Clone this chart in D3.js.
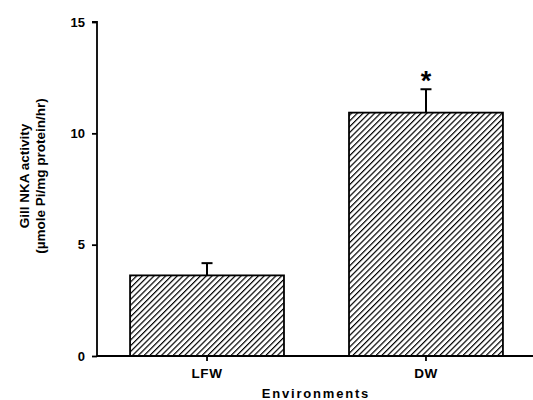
<!DOCTYPE html>
<html><head><meta charset="utf-8">
<script src="https://cdn.jsdelivr.net/npm/d3@7"></script>
<style>body{margin:0;background:#fff}svg{display:block}text{font-family:"Liberation Sans",Arial,sans-serif;font-weight:bold;fill:#000}</style>
</head><body>
<svg id="c" width="533" height="400"></svg>
<script>
const categories = ["LFW", "DW"];
const means = [3.62, 10.93];
const errors = [0.55, 1.05];
const marks = ["", "*"];
const yTicks = [0, 5, 10, 15];

const svg = d3.select("#c");
const x0 = 97, yBase = 356, yTop = 22;
const y = d3.scaleLinear().domain([0, 15]).range([yBase, yTop]);
const x = d3.scaleBand().domain(categories).range([x0, 536]).paddingInner(0.297).paddingOuter(0.151);
const FF = "'Liberation Sans',Arial,sans-serif";

const defs = svg.append("defs");
const pat = defs.append("pattern").attr("id", "hatch").attr("patternUnits", "userSpaceOnUse")
  .attr("width", 4.1).attr("height", 4.1).attr("patternTransform", "rotate(45)");
pat.append("rect").attr("width", 4.1).attr("height", 4.1).attr("fill", "#fff");
pat.append("line").attr("x1", 0).attr("y1", 0).attr("x2", 0).attr("y2", 4.1)
  .attr("stroke", "#000").attr("stroke-width", 2.4);

// bars
svg.selectAll("rect.bar").data(categories).enter().append("rect")
  .attr("x", d => x(d)).attr("width", x.bandwidth())
  .attr("y", (d, i) => y(means[i])).attr("height", (d, i) => yBase - y(means[i]))
  .attr("fill", "url(#hatch)").attr("stroke", "#000").attr("stroke-width", 1.8);

// error bars
const cx = d => x(d) + x.bandwidth() / 2;
svg.selectAll("line.err").data(categories).enter().append("line")
  .attr("x1", cx).attr("x2", cx)
  .attr("y1", (d, i) => y(means[i])).attr("y2", (d, i) => y(means[i] + errors[i]))
  .attr("stroke", "#000").attr("stroke-width", 2);
svg.selectAll("line.cap").data(categories).enter().append("line")
  .attr("x1", d => cx(d) - 5.5).attr("x2", d => cx(d) + 5.5)
  .attr("y1", (d, i) => y(means[i] + errors[i])).attr("y2", (d, i) => y(means[i] + errors[i]))
  .attr("stroke", "#000").attr("stroke-width", 2);

svg.selectAll("text.mark").data(categories).enter().append("text")
  .attr("x", cx).attr("y", (d, i) => y(means[i] + errors[i]) + 1)
  .attr("text-anchor", "middle").style("font-size", "27px")
  .text((d, i) => marks[i]);

// y axis
const ya = svg.append("g").attr("transform", `translate(${x0},0)`)
  .call(d3.axisLeft(y).tickValues(yTicks).tickSize(5).tickPadding(7).tickFormat(d3.format("d")));
ya.select(".domain").attr("stroke-width", 1.8).attr("d", `M-5,${yTop}H0V${yBase}`);
ya.selectAll(".tick line").attr("stroke-width", 1.8);
ya.selectAll("text").style("font-size", "13px").style("font-family", FF).style("font-weight", "bold");

// x axis
const xa = svg.append("g").attr("transform", `translate(0,${yBase})`)
  .call(d3.axisBottom(x).tickSize(5).tickPadding(7));
xa.select(".domain").attr("stroke-width", 1.8).attr("d", `M${x0},0H536`);
xa.selectAll(".tick line").attr("stroke-width", 1.8);
xa.selectAll("text").style("font-size", "13.5px").style("font-family", FF).style("font-weight", "bold")
  .style("letter-spacing", "0.6px").attr("dy", "0.71em");

svg.append("text").attr("x", 316).attr("y", 398).attr("text-anchor", "middle")
  .style("font-size", "13px").style("letter-spacing", "1.8px").text("Environments");

const yl = svg.append("text").attr("transform", "translate(29,176) rotate(-90)").attr("text-anchor", "middle").style("font-size", "13.5px");
yl.append("tspan").attr("x", 0).attr("dy", 0).text("Gill NKA activity");
yl.append("tspan").attr("x", 0).attr("dy", 16).text("(µmole Pi/mg protein/hr)");
</script>
</body></html>
